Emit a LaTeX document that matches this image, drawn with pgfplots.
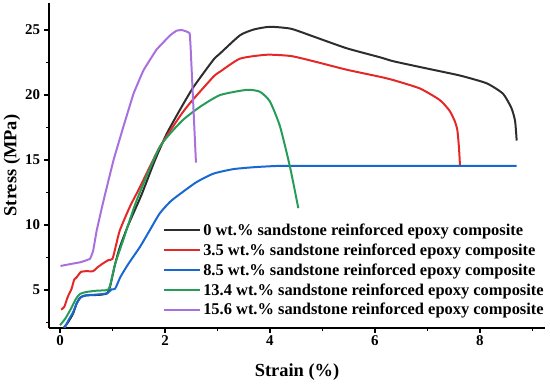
\documentclass[border=0pt]{standalone}
\usepackage{fontspec}
\setmainfont{Liberation Serif}
\usepackage{pgfplots}
\pgfplotsset{compat=1.18}
\definecolor{cBlack}{RGB}{45,45,45}
\definecolor{cRed}{RGB}{228,40,40}
\definecolor{cBlue}{RGB}{24,104,210}
\definecolor{cGreen}{RGB}{38,156,88}
\definecolor{cPurple}{RGB}{168,112,222}
\begin{document}
\begin{tikzpicture}
\path[use as bounding box] (0,0) rectangle (550bp,385bp);
\begin{axis}[
  at={(49bp,57bp)}, anchor=south west,
  scale only axis, width=496bp, height=325bp,
  xmin=-0.21, xmax=9.24, ymin=2.08, ymax=27.08,
  axis x line=bottom, axis y line=left,
  axis line style={-, line width=2pt, black},
  xtick={0,2,4,6,8}, minor xtick={1,3,5,7,9},
  ytick={5,10,15,20,25}, minor ytick={2.5,7.5,12.5,17.5,22.5},
  tick align=outside,
  major tick length=4.5bp, minor tick length=3bp,
  tick style={line width=1.5pt, black},
  /pgf/number format/assume math mode=true,
  ticklabel style={font=\fontsize{15}{17}\selectfont\bfseries},
  yticklabel style={xshift=-1bp},
  xlabel={Strain (\%)}, ylabel={Stress (MPa)},
  label style={font=\fontsize{18.5}{21}\selectfont\bfseries},
  xlabel style={at={(axis description cs:0.5,0)}, anchor=center, yshift=-44bp},
  ylabel style={at={(axis description cs:0,0.5)}, anchor=center, yshift=37bp},
  clip=true,
  legend style={at={(axis description cs:0.228,0.33)}, anchor=north west, draw=none, fill=none,
    font=\fontsize{16.5}{18}\selectfont\bfseries, row sep=2.8bp, inner sep=1bp},
  legend cell align=left,
  legend image code/.code={\draw[#1, line width=2pt] (0bp,0bp) -- (36bp,0bp);},
  every axis plot/.append style={line width=2pt, line join=round, smooth, tension=0.35},
]
\addplot[cBlack] coordinates {
(0.05,2.0) (0.15,2.5) (0.25,3.2) (0.32,4.0) (0.38,4.4) (0.45,4.55) (0.55,4.6) (0.7,4.62) (0.8,4.65) (0.9,4.75)
(0.95,5.2) (1.05,7.0) (1.14,8.3) (1.3,10.0) (1.55,12.3) (1.8,14.9) (2.03,17.0) (2.29,18.9) (2.54,20.6) (2.92,22.7)
(3.05,23.2) (3.43,24.6) (3.7,25.05) (4.0,25.25) (4.4,25.1) (4.83,24.5) (5.46,23.6) (6.1,22.9) (6.35,22.6) (6.98,22.05)
(7.62,21.5) (8.13,20.9) (8.44,20.1) (8.6,19.0) (8.67,18.0) (8.70,16.5)
};
\addlegendentry{0 wt.\% sandstone reinforced epoxy composite}
\addplot[cRed] coordinates {
(0.02,3.5) (0.08,3.7) (0.15,4.5) (0.22,5.1) (0.27,5.8) (0.32,6.0) (0.4,6.4) (0.5,6.45) (0.63,6.45) (0.7,6.7)
(0.8,7.0) (0.92,7.3) (1.0,7.4) (1.07,8.5) (1.14,9.6) (1.33,11.4) (1.52,12.9) (1.9,16.0) (2.29,18.4) (2.48,19.4)
(2.92,21.4) (3.05,21.8) (3.43,22.8) (3.94,23.1) (4.4,23.0) (4.83,22.6) (5.46,21.95) (6.1,21.4) (6.35,21.15)
(6.86,20.5) (7.24,19.6) (7.42,18.8) (7.52,18.0) (7.57,17.3) (7.6,16) (7.62,14.6)
};
\addlegendentry{3.5 wt.\% sandstone reinforced epoxy composite}
\addplot[cBlue] coordinates {
(0.08,2.0) (0.15,2.6) (0.25,3.3) (0.32,4.0) (0.4,4.45) (0.5,4.6) (0.7,4.65) (0.9,4.75) (0.98,5.05) (1.05,5.1)
(1.15,6.0) (1.3,7.0) (1.52,8.3) (1.71,9.6) (1.9,10.9) (2.1,11.8) (2.29,12.4) (2.6,13.3) (2.92,13.95) (3.3,14.3)
(3.7,14.45) (4.19,14.55) (5,14.55) (6,14.55) (7,14.55) (8.7,14.55)
};
\addlegendentry{8.5 wt.\% sandstone reinforced epoxy composite}
\addplot[cGreen] coordinates {
(0.0,2.3) (0.1,2.8) (0.2,3.5) (0.3,4.3) (0.38,4.7) (0.5,4.85) (0.7,4.95) (0.9,5.0) (0.95,5.3) (1.05,7.0)
(1.2,8.8) (1.46,11.9) (1.9,16.0) (2.32,18.0) (2.67,19.1) (3.05,20.0) (3.56,20.4) (3.81,20.25) (4.0,19.5)
(4.19,17.6) (4.38,14.5) (4.54,11.3)
};
\addlegendentry{13.4 wt.\% sandstone reinforced epoxy composite}
\addplot[cPurple, tension=0.15] coordinates {
(0.01,6.85) (0.2,7.0) (0.4,7.15) (0.57,7.4) (0.63,8.0) (0.7,9.6) (0.83,11.9) (1.02,15.0) (1.21,17.6) (1.4,20.1)
(1.59,21.9) (1.84,23.5) (2.1,24.6) (2.22,24.95) (2.32,25.0) (2.4,24.9) (2.47,24.75) (2.49,23.5) (2.59,14.8)
};
\addlegendentry{15.6 wt.\% sandstone reinforced epoxy composite}
\end{axis}
\end{tikzpicture}
\end{document}
